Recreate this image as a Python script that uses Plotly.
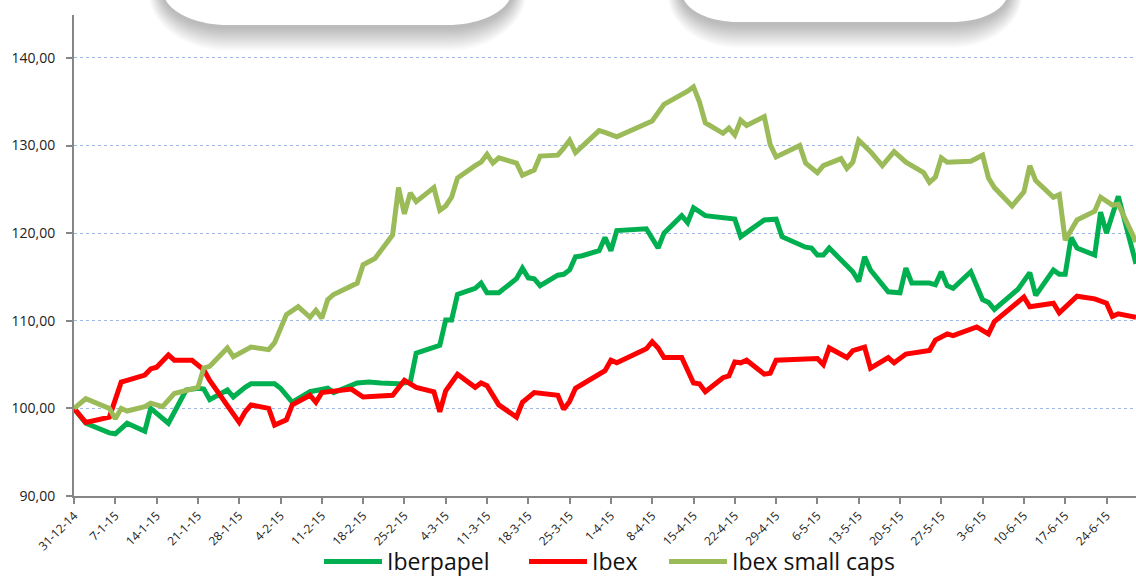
import plotly.graph_objects as go
import pandas as pd

# ---------------- data ----------------
iber_dates = ["2014-12-31","2015-01-02","2015-01-06","2015-01-07","2015-01-09","2015-01-12","2015-01-13","2015-01-16",
    "2015-01-19","2015-01-21","2015-01-22","2015-01-23","2015-01-26","2015-01-27","2015-01-29","2015-01-30",
    "2015-02-03","2015-02-04","2015-02-06","2015-02-09","2015-02-12","2015-02-13","2015-02-17","2015-02-19",
    "2015-02-21","2015-02-24","2015-02-26","2015-02-27","2015-03-03","2015-03-04","2015-03-05","2015-03-06",
    "2015-03-09","2015-03-10","2015-03-11","2015-03-13","2015-03-16","2015-03-17","2015-03-18","2015-03-19",
    "2015-03-20","2015-03-23","2015-03-24","2015-03-25","2015-03-26","2015-03-27","2015-03-30","2015-03-31",
    "2015-04-01","2015-04-02","2015-04-07","2015-04-09","2015-04-10","2015-04-13","2015-04-14","2015-04-15",
    "2015-04-17","2015-04-20","2015-04-22","2015-04-23","2015-04-27","2015-04-29","2015-04-30","2015-05-04",
    "2015-05-05","2015-05-06","2015-05-07","2015-05-08","2015-05-11","2015-05-12","2015-05-13","2015-05-14",
    "2015-05-15","2015-05-18","2015-05-20","2015-05-21","2015-05-22","2015-05-25","2015-05-26","2015-05-27",
    "2015-05-28","2015-05-29","2015-06-01","2015-06-03","2015-06-04","2015-06-05","2015-06-09","2015-06-11",
    "2015-06-12","2015-06-15","2015-06-16","2015-06-17","2015-06-18","2015-06-19","2015-06-22","2015-06-23",
    "2015-06-24","2015-06-26","2015-06-29"]
iber_vals = [100.0,98.3,97.2,97.1,98.3,97.4,100.0,98.3,
    102.1,102.3,102.2,101.0,102.1,101.3,102.4,102.8,
    102.8,102.3,100.7,101.9,102.3,101.8,102.9,103.0,
    102.9,102.8,103.0,106.3,107.2,110.1,110.1,113.0,
    113.7,114.3,113.2,113.2,114.8,116.0,114.9,114.8,
    114.0,115.2,115.3,115.8,117.3,117.4,118.0,119.5,
    118.0,120.3,120.5,118.3,120.0,122.0,121.2,122.9,
    122.0,121.7,121.6,119.6,121.5,121.6,119.6,118.4,
    118.3,117.5,117.5,118.3,116.4,115.6,114.5,117.3,
    115.8,113.3,113.2,116.0,114.3,114.3,114.1,115.6,
    114.0,113.7,115.6,112.4,112.1,111.3,113.6,115.5,
    112.9,115.8,115.3,115.3,119.5,118.3,117.5,122.4,
    120.0,124.2,116.5]

ibex_dates = ["2014-12-31","2015-01-02","2015-01-06","2015-01-08","2015-01-09","2015-01-12","2015-01-13","2015-01-14",
    "2015-01-16","2015-01-17","2015-01-20","2015-01-22","2015-01-23","2015-01-28","2015-01-29","2015-01-30",
    "2015-02-02","2015-02-03","2015-02-05","2015-02-06","2015-02-09","2015-02-10","2015-02-11","2015-02-16",
    "2015-02-18","2015-02-23","2015-02-25","2015-02-27","2015-03-02","2015-03-03","2015-03-04","2015-03-06",
    "2015-03-09","2015-03-10","2015-03-11","2015-03-13","2015-03-16","2015-03-17","2015-03-19","2015-03-23",
    "2015-03-24","2015-03-25","2015-03-26","2015-03-30","2015-03-31","2015-04-01","2015-04-02","2015-04-07",
    "2015-04-08","2015-04-09","2015-04-10","2015-04-13","2015-04-15","2015-04-16","2015-04-17","2015-04-20",
    "2015-04-21","2015-04-22","2015-04-23","2015-04-24","2015-04-27","2015-04-28","2015-04-29","2015-05-06",
    "2015-05-07","2015-05-08","2015-05-11","2015-05-12","2015-05-14","2015-05-15","2015-05-18","2015-05-19",
    "2015-05-21","2015-05-25","2015-05-26","2015-05-28","2015-05-29","2015-06-02","2015-06-04","2015-06-05",
    "2015-06-09","2015-06-10","2015-06-11","2015-06-15","2015-06-16","2015-06-19","2015-06-22","2015-06-23",
    "2015-06-24","2015-06-25","2015-06-26","2015-06-29"]
ibex_vals = [100.0,98.4,99.0,103.0,103.2,103.8,104.5,104.7,
    106.1,105.5,105.5,104.4,103.2,98.4,99.6,100.4,
    100.0,98.1,98.7,100.4,101.5,100.7,101.8,102.2,
    101.3,101.5,103.2,102.4,101.9,99.6,102.0,103.9,
    102.4,102.9,102.6,100.4,99.0,100.7,101.8,101.5,
    99.9,100.8,102.3,104.0,104.3,105.5,105.2,106.8,
    107.6,106.9,105.8,105.8,102.9,102.8,101.9,103.5,
    103.7,105.3,105.2,105.5,103.9,104.0,105.5,105.7,
    105.0,106.9,105.8,106.6,107.0,104.6,105.8,105.2,
    106.2,106.6,107.8,108.5,108.3,109.3,108.5,109.9,
    112.1,112.7,111.6,112.0,110.9,112.8,112.5,112.2,
    112.0,110.5,110.8,110.4]

small_dates = ["2014-12-31","2015-01-02","2015-01-06","2015-01-07","2015-01-08","2015-01-09","2015-01-12","2015-01-13",
    "2015-01-15","2015-01-17","2015-01-21","2015-01-22","2015-01-23","2015-01-26","2015-01-27","2015-01-30",
    "2015-02-02","2015-02-03","2015-02-05","2015-02-07","2015-02-09","2015-02-10","2015-02-11","2015-02-12",
    "2015-02-13","2015-02-16","2015-02-17","2015-02-18","2015-02-20","2015-02-23","2015-02-24","2015-02-25",
    "2015-02-26","2015-02-27","2015-03-02","2015-03-03","2015-03-04","2015-03-05","2015-03-06","2015-03-09",
    "2015-03-10","2015-03-11","2015-03-12","2015-03-13","2015-03-16","2015-03-17","2015-03-19","2015-03-20",
    "2015-03-23","2015-03-24","2015-03-25","2015-03-26","2015-03-30","2015-03-31","2015-04-02","2015-04-08",
    "2015-04-10","2015-04-14","2015-04-15","2015-04-16","2015-04-17","2015-04-20","2015-04-21","2015-04-22",
    "2015-04-23","2015-04-24","2015-04-27","2015-04-28","2015-04-29","2015-05-03","2015-05-04","2015-05-06",
    "2015-05-07","2015-05-10","2015-05-11","2015-05-12","2015-05-13","2015-05-15","2015-05-17","2015-05-19",
    "2015-05-21","2015-05-24","2015-05-25","2015-05-26","2015-05-27","2015-05-28","2015-06-01","2015-06-03",
    "2015-06-04","2015-06-05","2015-06-08","2015-06-10","2015-06-11","2015-06-12","2015-06-15","2015-06-16",
    "2015-06-17","2015-06-19","2015-06-22","2015-06-23","2015-06-25","2015-06-26","2015-06-29"]
small_vals = [100.0,101.1,100.0,98.8,100.0,99.7,100.2,100.6,
    100.2,101.7,102.4,104.6,104.8,106.9,105.9,107.0,
    106.7,107.5,110.7,111.6,110.4,111.2,110.3,112.4,
    113.0,113.9,114.3,116.4,117.1,119.8,125.2,122.2,
    124.6,123.6,125.2,122.6,123.1,124.1,126.3,127.7,
    128.1,129.0,128.0,128.6,128.0,126.6,127.2,128.8,
    128.9,129.7,130.6,129.2,131.7,131.5,131.0,132.8,
    134.7,136.2,136.7,135.0,132.6,131.4,132.0,131.2,
    132.9,132.3,133.3,130.1,128.7,130.0,128.0,126.9,
    127.7,128.5,127.4,128.1,130.6,129.3,127.7,129.3,
    128.1,126.9,125.8,126.4,128.6,128.1,128.2,128.9,
    126.3,125.2,123.1,124.7,127.7,126.0,124.1,124.4,
    119.2,121.5,122.5,124.1,123.2,123.3,119.0]

series_names = ["Iberpapel", "Ibex", "Ibex small caps"]
series_colors = ["#00B050", "#FF0000", "#9BBB59"]
y_ticks = [90, 100, 110, 120, 130, 140]

# ---------------- figure ----------------
W, H = 1136, 579
L, R, T, B = 74, 1136, 15, 496

def px(x):
    return (x - L) / (R - L)

def py(y):
    return (B - y) / (B - T)

fig = go.Figure()
legend_ids = ["legend", "legend2", "legend3"]
for name, dates, vals, col, lg in zip(series_names,
                                      [iber_dates, ibex_dates, small_dates],
                                      [iber_vals, ibex_vals, small_vals],
                                      series_colors, legend_ids):
    fig.add_trace(go.Scatter(x=pd.to_datetime(dates), y=vals, name=name, mode="lines",
                             line=dict(color=col, width=5), legend=lg))

tick_dates = pd.date_range("2014-12-31", "2015-06-24", freq="7D")
tick_text = [f"{d.day}-{d.month}-{d.strftime('%y')}" for d in tick_dates]

# decorative rounded boxes with soft shadow (top of picture)
def rounded(x0, x1, top, bot, rx, ry):
    k = 0.552
    pts = [
        f"M{px(x0)},{py(top)}",
        f"L{px(x0)},{py(bot - ry)}",
        f"C{px(x0)},{py(bot - ry + k * ry)} {px(x0 + rx - k * rx)},{py(bot)} {px(x0 + rx)},{py(bot)}",
        f"L{px(x1 - rx)},{py(bot)}",
        f"C{px(x1 - rx + k * rx)},{py(bot)} {px(x1)},{py(bot - ry + k * ry)} {px(x1)},{py(bot - ry)}",
        f"L{px(x1)},{py(top)}",
        "Z",
    ]
    return " ".join(pts)

shapes = []
for (x0, x1, bot, rx, ry) in [(163, 512, 25, 65, 35), (682, 1008, 22, 56, 30)]:
    for i in range(14, 0, -1):
        e = i * 1.7
        shapes.append(dict(type="path", xref="paper", yref="paper",
                           path=rounded(x0 - e * 0.6, x1 + e * 0.6, -80, bot + 2 + e, rx + e * 0.6, ry + e),
                           fillcolor="rgba(0,0,0,0.02)", line=dict(width=0), layer="above"))
    shapes.append(dict(type="path", xref="paper", yref="paper",
                       path=rounded(x0, x1, -80, bot, rx, ry),
                       fillcolor="white", line=dict(width=0), layer="above"))

leg_common = dict(orientation="h", yanchor="top", y=-0.0915, xanchor="left",
                  font=dict(size=23, color="#111111"), itemwidth=58,
                  bgcolor="rgba(0,0,0,0)")

fig.update_layout(
    width=W, height=H,
    margin=dict(l=L, r=W - R, t=T, b=H - B, autoexpand=False),
    paper_bgcolor="white", plot_bgcolor="white",
    separators=",.",
    font=dict(family="Open Sans", color="#222222"),
    shapes=shapes,
    showlegend=True,
    legend=dict(x=px(319), **leg_common),
    legend2=dict(x=px(524), **leg_common),
    legend3=dict(x=px(664), **leg_common),
    xaxis=dict(type="date", range=["2014-12-31", "2015-06-29"],
               tickvals=tick_dates, ticktext=tick_text, tickangle=-45,
               tickfont=dict(size=12, color="#222222"),
               showgrid=False, zeroline=False,
               showline=True, linecolor="#868686", linewidth=2,
               ticks="outside", ticklen=6, tickcolor="#868686", tickwidth=1.5),
    yaxis=dict(range=[90, 144.9], tickvals=y_ticks, tickformat=".2f",
               tickfont=dict(size=14, color="#222222"), ticklabelstandoff=8,
               showgrid=True, gridcolor="#9FB6E8", griddash="dot", gridwidth=1.3,
               zeroline=False, showline=True, linecolor="#868686", linewidth=2,
               ticks="outside", ticklen=6, tickcolor="#868686", tickwidth=1.5),
)

fig.write_html("out.html", config={"displayModeBar": False},
               post_script="document.body.style.margin='0';document.body.style.padding='0';")
